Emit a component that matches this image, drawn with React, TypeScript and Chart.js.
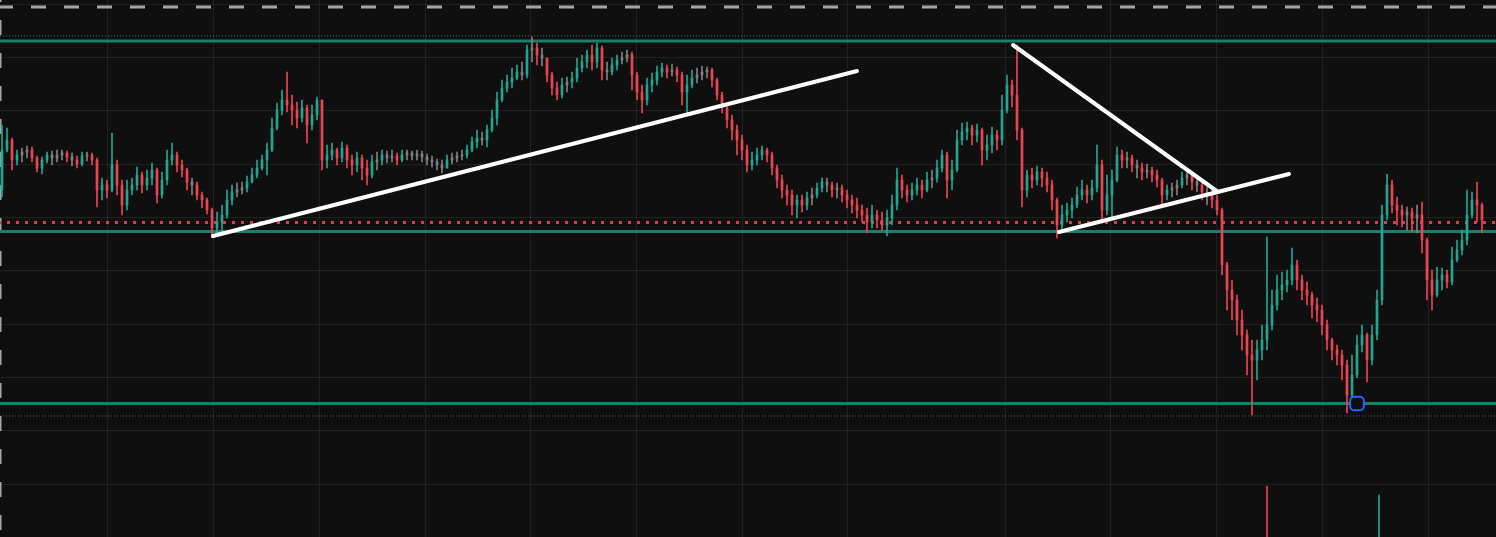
import React, { useEffect, useRef } from "react";
import { Chart, registerables } from "chart.js";

Chart.register(...registerables);

// ---- price data (arbitrary price units), one candle per slot ----
const firstOpen = 810;
const closes = [
  850,860,840,845,848,850,842,832,840,845,
  842,845,847,843,840,836,844,845,840,810,
  815,810,835,815,795,810,815,825,815,822,
  830,805,820,840,845,835,830,818,815,805,
  800,790,772,778,785,800,808,810,812,818,
  825,832,840,850,872,890,900,895,890,882,
  892,875,885,900,840,845,850,842,852,840,
  835,842,832,825,838,840,845,842,844,840,
  845,847,844,846,843,840,838,835,832,840,
  842,844,845,850,858,862,860,870,882,900,
  912,918,922,928,925,950,952,945,942,925,
  912,905,915,918,922,932,938,945,938,952,
  930,928,935,940,942,945,925,908,900,915,
  920,928,932,928,930,925,908,915,922,925,
  928,930,920,905,892,880,870,860,850,835,
  840,845,850,845,832,820,810,805,795,800,
  795,802,805,812,818,815,810,812,805,800,
  795,790,785,778,785,780,775,782,795,820,
  810,805,810,815,810,820,822,832,845,820,
  830,860,868,872,865,870,850,855,865,860,
  890,915,905,870,810,825,820,828,822,815,
  800,775,785,790,795,805,810,805,812,835,
  790,805,820,845,840,842,835,832,828,830,
  825,820,805,810,812,815,822,825,818,815,
  808,805,800,790,735,710,700,680,665,645,
  640,650,660,675,695,710,715,720,735,720,
  710,705,695,690,675,660,650,645,635,605,
  625,655,665,640,665,700,785,815,795,790,
  785,788,782,785,760,720,705,720,725,718,
  740,750,760,785,800,795,780,
];
const highs = [
  875,872,862,850,852,854,853,844,843,848,
  849,850,850,849,847,844,848,848,847,842,
  822,820,867,840,820,820,822,833,828,830,
  837,832,828,850,857,848,840,832,822,818,
  808,802,792,788,795,810,815,817,818,824,
  832,840,845,857,882,897,910,928,905,898,
  900,895,895,903,900,855,857,852,858,855,
  845,848,845,840,845,848,850,849,850,847,
  850,850,849,850,849,846,844,841,840,845,
  847,848,850,855,863,870,868,875,890,908,
  920,925,932,935,938,955,963,957,952,942,
  928,918,922,923,928,942,945,950,955,957,
  954,938,942,945,948,950,948,928,915,922,
  927,934,937,935,936,933,928,925,930,932,
  934,933,932,922,908,895,885,875,865,855,
  848,852,854,852,848,835,825,815,810,805,
  805,808,812,817,822,822,818,817,815,810,
  805,802,795,792,795,790,788,790,805,832,
  825,815,817,822,820,828,830,840,850,848,
  840,870,877,878,875,876,872,865,873,870,
  905,925,920,955,872,830,832,834,832,828,
  820,802,795,797,802,813,820,815,820,855,
  840,825,830,853,850,848,845,840,837,836,
  833,830,822,815,817,820,828,830,826,822,
  817,813,810,805,792,738,720,705,690,670,
  660,660,675,763,710,725,728,730,752,740,
  725,718,708,702,695,680,662,655,650,640,
  645,665,675,667,675,710,795,826,820,803,
  795,793,792,795,798,762,730,733,732,730,
  753,760,770,810,808,818,797,
];
const lows = [
  803,848,830,835,838,842,838,828,826,837,
  835,838,840,838,834,832,834,839,835,793,
  800,802,808,805,785,790,805,810,807,810,
  815,797,802,815,835,828,823,810,805,800,
  792,786,762,764,766,782,795,803,806,808,
  817,822,830,825,848,870,885,888,875,872,
  878,857,870,880,830,832,840,835,838,832,
  825,828,820,815,822,830,835,837,838,835,
  838,840,840,840,838,835,833,830,827,832,
  836,838,840,842,848,852,855,853,868,875,
  898,908,912,920,920,922,938,935,934,918,
  905,900,902,908,912,918,928,932,930,932,
  920,920,925,930,936,938,910,900,887,895,
  908,915,923,922,924,918,895,885,912,917,
  920,922,913,900,887,872,860,845,840,828,
  830,835,840,838,825,812,802,795,785,782,
  788,790,795,802,808,808,803,802,798,792,
  787,782,778,767,772,772,770,764,775,790,
  802,798,800,805,802,808,812,818,828,802,
  810,828,855,860,855,858,835,840,847,850,
  855,887,893,860,793,803,812,815,813,808,
  790,762,770,778,782,792,800,797,800,808,
  777,785,783,818,832,832,828,822,820,822,
  818,813,793,800,803,805,812,815,810,808,
  800,795,792,785,725,690,680,665,650,625,
  585,620,640,650,670,690,700,708,715,710,
  700,695,682,678,665,650,640,635,620,587,
  602,622,648,618,635,660,695,780,787,775,
  773,770,768,767,747,700,690,703,710,712,
  715,738,745,755,782,778,767,
];

// volume pane: only two visible spikes
const volumeIdx = [253, 275.4];
const volumes = [51, 42];
const volumeUp = [false, true];

// horizontal levels
const resistanceLevel = 959;
const supportLevel = 768.5;
const lowerSupportLevel = 596.5;
const lastPriceLevel = 777.5;
const upperDashedLevel = 993;
const upperDottedLevel = 964;
const lowerDottedLevel = 584;

// drawn trend lines (candle index, price)
const trendA = [{ x: 42.2, y: 764 }, { x: 171.0, y: 929 }];
const trendB = [{ x: 202.2, y: 955 }, { x: 243.2, y: 808 }];
const trendC = [{ x: 211.4, y: 768 }, { x: 257.4, y: 826 }];
const markerPoint = [{ x: 271.0, y: 596.5 }];

// time grid positions (candle index) and price grid
const timeGrid = [21.0, 42.2, 63.4, 84.5, 105.6, 126.8, 147.9, 169.0, 200.6, 221.6, 242.8, 264.0, 285.2];
const priceGrid = [516.3, 569.7, 623, 676.3, 729.7, 783, 836.3, 889.7, 943, 996.3];

const X_MIN = -0.4;
const X_MAX = 298.8;
const Y_MIN = 463;
const Y_MAX = 1000;

const UP = "rgb(34,166,145)";
const DOWN = "rgb(238,68,82)";
const FLAT = "rgb(128,128,128)";
const TEAL_LINE = "rgb(30,125,110)";

export default function App() {
  const ref = useRef<HTMLCanvasElement | null>(null);

  useEffect(() => {
    document.body.style.margin = "0";
    document.body.style.background = "#0f0f0f";
    const canvas = ref.current;
    if (!canvas) return;

    const opens = closes.map((_, i) => (i === 0 ? firstOpen : closes[i - 1]));
    const colors = closes.map((c, i) => {
      const d = c - opens[i];
      if (Math.abs(d) <= 3) return FLAT;
      return d > 0 ? UP : DOWN;
    });
    const wickData = closes.map((_, i) => ({ x: i, y: [lows[i], highs[i]] }));
    const bodyData = closes.map((c, i) => ({ x: i, y: [opens[i], c] }));
    const volData = volumeIdx.map((x, i) => ({ x, y: volumes[i] }));
    const span = (y: number) => [{ x: X_MIN, y }, { x: X_MAX, y }];

    const bgPlugin = {
      id: "bg",
      beforeDraw(chart: any) {
        const { ctx, width, height } = chart;
        ctx.save();
        ctx.fillStyle = "#0f0f0f";
        ctx.fillRect(0, 0, width, height);
        ctx.restore();
      },
    };
    const gridPlugin = {
      id: "grid",
      beforeDatasetsDraw(chart: any) {
        const { ctx, chartArea, scales } = chart;
        ctx.save();
        ctx.strokeStyle = "rgba(255,255,255,0.075)";
        ctx.lineWidth = 1;
        timeGrid.forEach((v) => {
          const px = Math.round(scales.x.getPixelForValue(v)) + 0.5;
          ctx.beginPath();
          ctx.moveTo(px, chartArea.top);
          ctx.lineTo(px, chartArea.bottom);
          ctx.stroke();
        });
        priceGrid.forEach((v) => {
          const py = Math.round(scales.y.getPixelForValue(v)) + 0.5;
          ctx.beginPath();
          ctx.moveTo(chartArea.left, py);
          ctx.lineTo(chartArea.right, py);
          ctx.stroke();
        });
        ctx.restore();
      },
    };

    const lineBase = {
      type: "line" as const,
      pointRadius: 0,
      tension: 0,
      fill: false,
      yAxisID: "y",
    };

    const chart = new Chart(canvas, {
      type: "bar",
      data: {
        datasets: [
          { ...lineBase, data: span(resistanceLevel), borderColor: TEAL_LINE, borderWidth: 3, order: 20 },
          { ...lineBase, data: span(supportLevel), borderColor: TEAL_LINE, borderWidth: 3, order: 20 },
          { ...lineBase, data: span(lowerSupportLevel), borderColor: TEAL_LINE, borderWidth: 3, order: 20 },
          { ...lineBase, data: span(lastPriceLevel), borderColor: "rgb(214,62,76)", borderWidth: 3, borderDash: [3, 6], borderDashOffset: 2, order: 20 },
          { ...lineBase, data: span(upperDashedLevel), borderColor: "rgb(165,165,165)", borderWidth: 3, borderDash: [15, 18], borderDashOffset: 2, order: 20 },
          { ...lineBase, data: [{ x: X_MIN + 0.1, y: Y_MAX }, { x: X_MIN + 0.1, y: Y_MIN }], borderColor: "rgb(165,165,165)", borderWidth: 2, borderDash: [15, 18], borderDashOffset: 13, order: 20, clip: false },
          { ...lineBase, data: span(upperDottedLevel), borderColor: "rgba(190,190,190,0.5)", borderWidth: 1, borderDash: [1, 2], order: 20 },
          { ...lineBase, data: span(lowerDottedLevel), borderColor: "rgba(190,190,190,0.5)", borderWidth: 1, borderDash: [1, 2], order: 20 },
          {
            type: "bar",
            data: volData as any,
            yAxisID: "vol",
            backgroundColor: volumeUp.map((u) => (u ? UP : DOWN)),
            barThickness: 1,
            grouped: false,
            order: 15,
          },
          {
            type: "bar",
            data: wickData as any,
            yAxisID: "y",
            backgroundColor: colors,
            barThickness: 1,
            grouped: false,
            order: 10,
          },
          {
            type: "bar",
            data: bodyData as any,
            yAxisID: "y",
            backgroundColor: colors,
            barThickness: 2,
            grouped: false,
            order: 9,
          },
          { ...lineBase, data: trendA, borderColor: "#ffffff", borderWidth: 4, borderCapStyle: "round", order: 2 },
          { ...lineBase, data: trendB, borderColor: "#ffffff", borderWidth: 4, borderCapStyle: "round", order: 2 },
          { ...lineBase, data: trendC, borderColor: "#ffffff", borderWidth: 4, borderCapStyle: "round", order: 2 },
          {
            type: "line",
            data: markerPoint,
            showLine: false,
            pointStyle: "rectRounded",
            pointRadius: 8,
            pointBorderWidth: 2,
            pointBorderColor: "#2962ff",
            pointBackgroundColor: "#0f0f0f",
            yAxisID: "y",
            order: 1,
          } as any,
        ] as any,
      },
      options: {
        animation: false,
        responsive: false,
        events: [],
        layout: { padding: 0, autoPadding: false },
        plugins: { legend: { display: false }, tooltip: { enabled: false } },
        scales: {
          x: { type: "linear", min: X_MIN, max: X_MAX, offset: false, display: false },
          y: { type: "linear", min: Y_MIN, max: Y_MAX, display: false },
          vol: { type: "linear", min: 0, max: 537, display: false },
        },
      } as any,
      plugins: [bgPlugin, gridPlugin],
    });
    return () => chart.destroy();
  }, []);

  return (
    <div style={{ width: 1496, height: 537, background: "#0f0f0f" }}>
      <canvas ref={ref} width={1496} height={537} />
    </div>
  );
}
